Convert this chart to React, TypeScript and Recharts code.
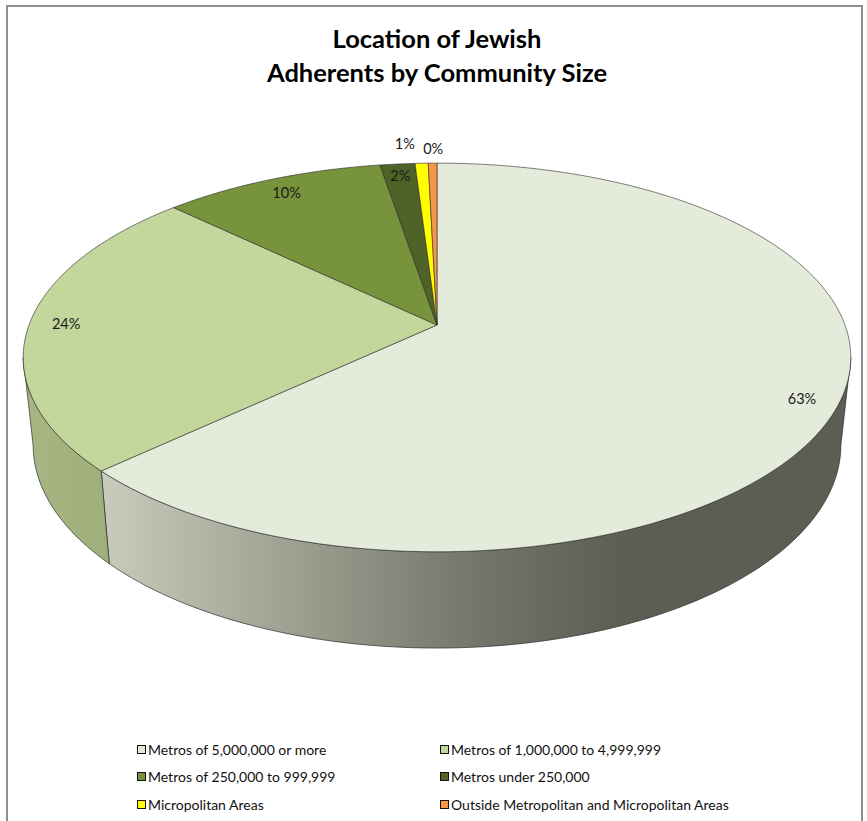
import React from "react";
import { PieChart, Pie, Cell, Legend } from "recharts";

const categories = [
  "Metros of 5,000,000 or more",
  "Metros of 1,000,000 to 4,999,999",
  "Metros of 250,000 to 999,999",
  "Metros under 250,000",
  "Micropolitan Areas",
  "Outside Metropolitan and Micropolitan Areas",
];
const shares = [63.0, 24.2, 10.2, 1.6, 0.6, 0.4];

const topColors = ["#E4EBDA", "#C3D69B", "#77933C", "#4F6228", "#FFFF00", "#F79646"];
const sideColors = ["url(#bigSide)", "url(#greenSide)", "#5F7630", "#3F4E20", "#CCCC00", "#C67838"];

const data = categories.map((name, i) => ({ name, value: shares[i] }));

const FONT = "Lato, 'Open Sans', sans-serif";

// fake 3D projection (Excel style tilted pie with a bit of perspective)
const K = 0.167;
const FLAT = 0.463;
const BX = 0.976;
const BY = 0.484;
const DROP = 86;

function topPt(cx: number, cy: number, r: number, deg: number) {
  const a = (deg * Math.PI) / 180;
  const u = Math.cos(a);
  const v = -Math.sin(a);
  const w = 1 - K * v;
  return [cx + (r * u) / w, cy + (FLAT * r * v) / w];
}

function bottomPt(cx: number, cy: number, r: number, deg: number) {
  const a = (deg * Math.PI) / 180;
  const u = Math.cos(a);
  const v = -Math.sin(a);
  const w = 1 - K * v;
  return [cx + (BX * r * u) / w, cy + DROP + (BY * r * v) / w];
}

function arc(fn: typeof topPt, cx: number, cy: number, r: number, a0: number, a1: number) {
  const n = Math.max(2, Math.ceil(Math.abs(a1 - a0) / 1.5));
  const pts: number[][] = [];
  for (let i = 0; i <= n; i++) pts.push(fn(cx, cy, r, a0 + ((a1 - a0) * i) / n));
  return pts;
}

const toPath = (pts: number[][]) =>
  pts.map((p, i) => `${i ? "L" : "M"}${p[0].toFixed(2)},${p[1].toFixed(2)}`).join(" ") + " Z";

function Slice3D(props: any) {
  const { cx, cy, outerRadius, startAngle, endAngle, fill } = props;
  const name = props.payload?.name ?? props.name;
  const idx = categories.indexOf(name);
  const top = [[cx, cy], ...arc(topPt, cx, cy, outerRadius, startAngle, endAngle)];

  // front wall: angles where the rim faces the viewer
  const lo = Math.min(startAngle, endAngle);
  const hi = Math.max(startAngle, endAngle);
  const s = (Math.asin(K) * 180) / Math.PI;
  const walls: string[] = [];
  [-360, 0, 360].forEach((shift) => {
    const a0 = Math.max(lo, 180 + s + shift);
    const a1 = Math.min(hi, 360 - s + shift);
    if (a1 > a0) {
      const t = arc(topPt, cx, cy, outerRadius, a0, a1);
      const b = arc(bottomPt, cx, cy, outerRadius, a0, a1).reverse();
      walls.push(toPath([...t, ...b]));
    }
  });

  return (
    <g>
      {walls.map((d, i) => (
        <path key={i} d={d} fill={sideColors[idx]} stroke="#2b2b2b" strokeWidth={0.7} />
      ))}
      <path d={toPath(top)} fill={fill} stroke="#2b2b2b" strokeWidth={0.6} />
    </g>
  );
}

function renderLabel(props: any) {
  const { cx, cy, midAngle, outerRadius, percent, index } = props;
  const f = index === 4 ? 1.12 : index === 5 ? 1.09 : index === 3 ? 0.93 : 0.91;
  const [x, y] = topPt(cx, cy, outerRadius * f, midAngle);
  const nudge = index === 4 ? -15 : index === 5 ? 1 : 0;
  return (
    <text
      x={x + nudge}
      y={y}
      textAnchor="middle"
      dominantBaseline="central"
      fontFamily={FONT}
      fontSize={14.5}
      fill="#1a1a1a"
    >
      {`${Math.round(percent * 100)}%`}
    </text>
  );
}

function LegendBox({ payload }: any) {
  const items = [...(payload || [])].sort(
    (a: any, b: any) => categories.indexOf(a.value) - categories.indexOf(b.value)
  );
  return (
    <div
      style={{
        display: "grid",
        gridTemplateColumns: "303px 380px",
        rowGap: 9,
        fontFamily: FONT,
        fontSize: 14,
        color: "#111",
      }}
    >
      {items.map((p: any, i: number) => (
        <div key={i} style={{ display: "flex", alignItems: "center", height: 18.5 }}>
          <span
            style={{
              width: 7,
              height: 7,
              border: "1px solid #111",
              background: topColors[categories.indexOf(p.value)],
              marginRight: 2,
              display: "inline-block",
            }}
          />
          <span>{p.value}</span>
        </div>
      ))}
    </div>
  );
}

export default function App() {
  return (
    <div
      style={{
        position: "absolute",
        left: 0,
        top: 0,
        width: 867,
        height: 821,
        overflow: "hidden",
        background: "#fff",
      }}
    >
      <div
        style={{
          position: "absolute",
          left: 6,
          top: 5,
          width: 853,
          height: 840,
          border: "2px solid #8e8e8e",
        }}
      />
      <div
        style={{
          position: "absolute",
          left: 0,
          top: 21,
          width: 874,
          textAlign: "center",
          fontFamily: FONT,
          fontWeight: 700,
          fontSize: 25.5,
          lineHeight: "34px",
          color: "#000",
        }}
      >
        Location of Jewish
        <br />
        Adherents by Community Size
      </div>
      <div style={{ position: "absolute", left: 0, top: 0 }}>
        <PieChart width={867} height={821} margin={{ top: 0, right: 0, bottom: 0, left: 0 }}>
          <defs>
            <linearGradient id="bigSide" x1="100" y1="0" x2="720" y2="0" gradientUnits="userSpaceOnUse">
              <stop offset="0" stopColor="#C9CCBD" />
              <stop offset="0.3" stopColor="#9FA192" />
              <stop offset="0.62" stopColor="#727469" />
              <stop offset="0.85" stopColor="#5C5D53" />
              <stop offset="1" stopColor="#5C5D53" />
            </linearGradient>
            <linearGradient id="greenSide" x1="20" y1="0" x2="110" y2="0" gradientUnits="userSpaceOnUse">
              <stop offset="0" stopColor="#A7B683" />
              <stop offset="1" stopColor="#9FAF7B" />
            </linearGradient>
          </defs>
          <Pie
            data={data}
            dataKey="value"
            nameKey="name"
            cx={437}
            cy={325}
            outerRadius={408}
            startAngle={90}
            endAngle={-270}
            stroke="none"
            shape={Slice3D}
            label={renderLabel}
            labelLine={false}
            isAnimationActive={false}
          >
            {data.map((d, i) => (
              <Cell key={d.name} fill={topColors[i]} />
            ))}
          </Pie>
          <Legend
            content={<LegendBox />}
            wrapperStyle={{ position: "absolute", left: 137, top: 740, width: 720 }}
          />
        </PieChart>
      </div>
    </div>
  );
}
